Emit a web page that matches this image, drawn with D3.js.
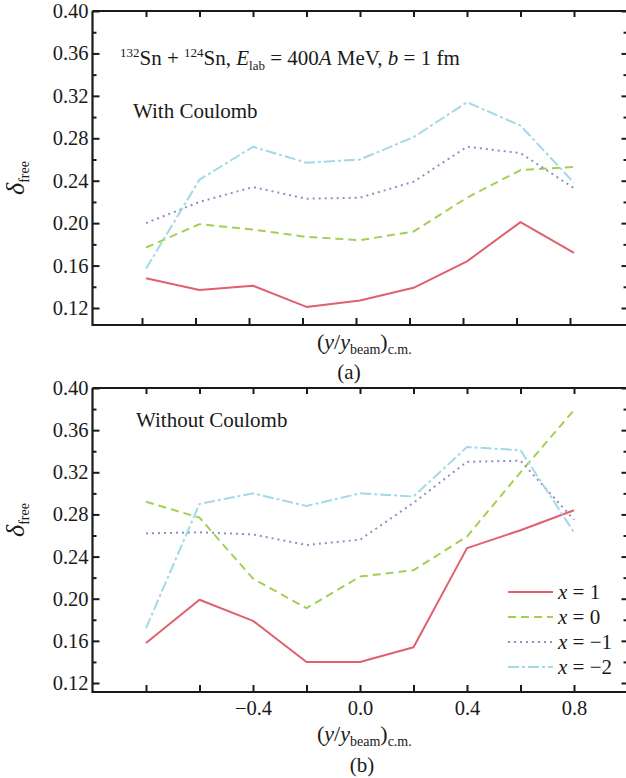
<!DOCTYPE html>
<html><head><meta charset="utf-8">
<script src="https://cdn.jsdelivr.net/npm/d3@7"></script>
<style>
html,body{margin:0;padding:0;background:#fff;}
svg{display:block;font-family:"Liberation Serif","Times New Roman",serif;}
</style></head>
<body><svg id="c" width="626" height="778"></svg>
<script>
// ---- data ----
const xValues = [-0.8, -0.6, -0.4, -0.2, 0.0, 0.2, 0.4, 0.6, 0.8];
const seriesNames = ["x = 1", "x = 0", "x = \u22121", "x = \u22122"];
const seriesKeys = ["1", "0", "\u22121", "\u22122"];
// panel (a): with Coulomb
const aX1  = [0.148, 0.137, 0.141, 0.121, 0.127, 0.139, 0.164, 0.201, 0.172];
const aX0  = [0.177, 0.199, 0.194, 0.187, 0.184, 0.192, 0.224, 0.250, 0.253];
const aXm1 = [0.200, 0.220, 0.234, 0.223, 0.224, 0.239, 0.272, 0.266, 0.233];
const aXm2 = [0.157, 0.241, 0.272, 0.257, 0.260, 0.281, 0.314, 0.292, 0.238];
// panel (b): without Coulomb
const bX1  = [0.158, 0.199, 0.179, 0.140, 0.140, 0.154, 0.248, 0.265, 0.284];
const bX0  = [0.292, 0.277, 0.219, 0.191, 0.221, 0.227, 0.259, 0.320, 0.379];
const bXm1 = [0.262, 0.263, 0.261, 0.251, 0.256, 0.291, 0.330, 0.331, 0.275];
const bXm2 = [0.172, 0.290, 0.300, 0.288, 0.300, 0.297, 0.344, 0.341, 0.263];
const yTicks = [0.12, 0.16, 0.20, 0.24, 0.28, 0.32, 0.36, 0.40];
const yMinorTicks = [0.14, 0.18, 0.22, 0.26, 0.30, 0.34, 0.38];
const xTicks = [-0.8, -0.6, -0.4, -0.2, 0.0, 0.2, 0.4, 0.6, 0.8];
const xLabelTicks = [-0.4, 0.0, 0.4, 0.8];

// ---- styles ----
const colors = ["#e0606e", "#a3cf55", "#958cc4", "#a2d9e6"];
const dashes = [null, "8,5", "2,4", "11,3,3,3"];
const INK = "#1a1a1a";

const svg = d3.select("#c");
const x = d3.scaleLinear().domain([-1, 1]).range([92.5, 627.5]);

function panel(cfg) {
  const y = d3.scaleLinear().domain([0.12, 0.40]).range([cfg.y012, cfg.y040]);
  const yBottom = cfg.yBottom;
  const g = svg.append("g");
  const fmt = d => d3.format(".2f")(d);

  // frame
  g.append("path")
    .attr("d", `M${x(-1)},${y(0.40)}H${x(1)}M${x(-1)},${y(0.40)}V${yBottom}H${x(1)}M${x(1)},${y(0.40)}V${yBottom}`)
    .attr("fill", "none").attr("stroke", INK).attr("stroke-width", 2.2);

  // left axis
  const la = g.append("g").attr("transform", `translate(${x(-1)},0)`)
    .call(d3.axisLeft(y).tickValues(yTicks).tickFormat(fmt).tickSizeInner(-7).tickSizeOuter(0).tickPadding(4));
  la.select(".domain").remove();
  la.selectAll("line").attr("stroke", INK).attr("stroke-width", 2);
  la.selectAll("text").attr("font-size", 20.5).attr("fill", INK).attr("font-family", "Liberation Serif");
  const lm = g.append("g").attr("transform", `translate(${x(-1)},0)`)
    .call(d3.axisLeft(y).tickValues(yMinorTicks).tickFormat("").tickSizeInner(-4).tickSizeOuter(0));
  lm.select(".domain").remove();
  lm.selectAll("line").attr("stroke", INK).attr("stroke-width", 2);

  // right axis
  const ra = g.append("g").attr("transform", `translate(${x(1)},0)`)
    .call(d3.axisRight(y).tickValues(yTicks).tickFormat("").tickSizeInner(-6).tickSizeOuter(0));
  ra.select(".domain").remove();
  ra.selectAll("line").attr("stroke", INK).attr("stroke-width", 2);
  const rm = g.append("g").attr("transform", `translate(${x(1)},0)`)
    .call(d3.axisRight(y).tickValues(yMinorTicks).tickFormat("").tickSizeInner(-4).tickSizeOuter(0));
  rm.select(".domain").remove();
  rm.selectAll("line").attr("stroke", INK).attr("stroke-width", 2);

  // top axis
  const ta = g.append("g").attr("transform", `translate(0,${y(0.40)})`)
    .call(d3.axisTop(x).tickValues(xTicks).tickFormat("").tickSizeInner(-6).tickSizeOuter(0));
  ta.select(".domain").remove();
  ta.selectAll("line").attr("stroke", INK).attr("stroke-width", 2);

  // bottom axis
  const ba = g.append("g").attr("transform", `translate(${cfg.bottomShift},${yBottom})`)
    .call(d3.axisBottom(x).tickValues(xTicks)
      .tickFormat(d => cfg.xLabels && xLabelTicks.some(v => Math.abs(v - d) < 1e-9) ? d3.format(".1f")(d).replace("-", "\u2013") : "")
      .tickSizeInner(-7).tickSizeOuter(0).tickPadding(8));
  ba.select(".domain").remove();
  ba.selectAll("line").attr("stroke", INK).attr("stroke-width", 2);
  ba.selectAll("text").attr("font-size", 20.5).attr("fill", INK).attr("font-family", "Liberation Serif");

  // lines
  const line = d3.line().x((d, i) => x(xValues[i])).y(d => y(d));
  cfg.series.forEach((s, k) => {
    g.append("path").datum(s).attr("d", line)
      .attr("fill", "none").attr("stroke", colors[k]).attr("stroke-width", 2)
      .attr("stroke-dasharray", dashes[k]).attr("stroke-linejoin", "round");
  });

  // y label
  const yl = g.append("text")
    .attr("transform", `translate(24,${cfg.yLabelCenter}) rotate(-90)`)
    .attr("text-anchor", "middle").attr("fill", INK);
  yl.append("tspan").attr("font-style", "italic").attr("font-size", 26).text("\u03b4");
  yl.append("tspan").attr("font-size", 14).attr("dy", 5).text("free");

  // x label
  const xl = g.append("text").attr("x", 317).attr("y", cfg.xLabelY).attr("fill", INK).attr("font-size", 22);
  xl.append("tspan").text("(");
  xl.append("tspan").attr("font-style", "italic").text("y");
  xl.append("tspan").text("/");
  xl.append("tspan").attr("font-style", "italic").text("y");
  xl.append("tspan").attr("font-size", 14).attr("dy", 5).text("beam");
  xl.append("tspan").attr("dy", -5).text(")");
  xl.append("tspan").attr("font-size", 14).attr("dy", 5).text("c.m.");

  g.append("text").attr("x", cfg.tagX).attr("y", cfg.tagY).attr("text-anchor", "middle")
    .attr("font-size", 21).attr("fill", INK).text(cfg.tag);
  return {g, y};
}

const pa = panel({y040: 11, y012: 308, yBottom: 325, bottomShift: -4, xLabels: false,
  series: [aX1, aX0, aXm1, aXm2], yLabelCenter: 178, xLabelY: 349, tag: "(a)", tagX: 349, tagY: 379});
const pb = panel({y040: 388, y012: 683, yBottom: 692, bottomShift: 0, xLabels: true,
  series: [bX1, bX0, bXm1, bXm2], yLabelCenter: 520, xLabelY: 741, tag: "(b)", tagX: 362, tagY: 772});

// annotations
const t = pa.g.append("text").attr("x", 120).attr("y", 65).attr("font-size", 21).attr("fill", INK);
t.append("tspan").attr("font-size", 13).attr("dy", -8).text("132");
t.append("tspan").attr("dy", 8).text("Sn + ");
t.append("tspan").attr("font-size", 13).attr("dy", -8).text("124");
t.append("tspan").attr("dy", 8).text("Sn, ");
t.append("tspan").attr("font-style", "italic").text("E");
t.append("tspan").attr("font-size", 13).attr("dy", 5).text("lab");
t.append("tspan").attr("dy", -5).text(" = 400");
t.append("tspan").attr("font-style", "italic").text("A");
t.append("tspan").text(" MeV, ");
t.append("tspan").attr("font-style", "italic").text("b");
t.append("tspan").text(" = 1 fm");

pa.g.append("text").attr("x", 133).attr("y", 118).attr("font-size", 21).attr("fill", INK).text("With Coulomb");
pb.g.append("text").attr("x", 136).attr("y", 427).attr("font-size", 21).attr("fill", INK).text("Without Coulomb");

// legend
const leg = pb.g.append("g");
seriesNames.forEach((name, k) => {
  const yy = 592 + k * 25;
  leg.append("line").attr("x1", 508).attr("x2", 553).attr("y1", yy).attr("y2", yy)
    .attr("stroke", colors[k]).attr("stroke-width", 2).attr("stroke-dasharray", dashes[k]);
  const tx = leg.append("text").attr("x", 558).attr("y", yy + 7).attr("font-size", 21).attr("fill", INK);
  tx.append("tspan").attr("font-style", "italic").text("x");
  tx.append("tspan").text(" = " + seriesKeys[k]);
});
</script></body></html>
